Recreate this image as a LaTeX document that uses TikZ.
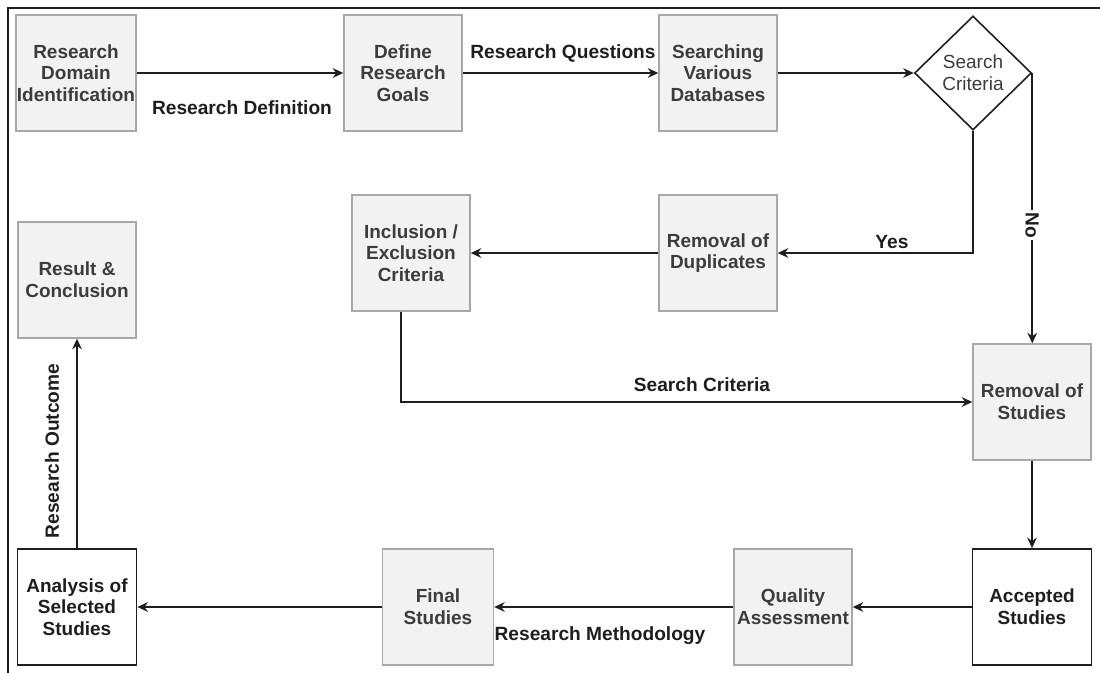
\documentclass[tikz,border=0pt]{standalone}
\usepackage{fontspec}
\setmainfont{Liberation Sans}
\usetikzlibrary{shapes.geometric,arrows.meta}
\definecolor{boxfill}{HTML}{F2F2F2}
\definecolor{boxline}{HTML}{A8A8A8}
\definecolor{boxtext}{HTML}{3C3C3C}
\definecolor{ink}{HTML}{1E1E1E}
\begin{document}
\begin{tikzpicture}[x=0.02cm,y=-0.02cm,
  every node/.style={font=\fontsize{10.8}{12.3}\selectfont},
  graybox/.style={draw=boxline,line width=0.8pt,fill=boxfill,text=boxtext,
    font=\fontsize{10.8}{12.3}\selectfont\bfseries,align=center,inner sep=0.5pt,
    minimum width=2.36cm,minimum height=2.32cm},
  darkbox/.style={draw=ink,line width=1pt,fill=white,text=ink,
    font=\fontsize{10.8}{12.3}\selectfont\bfseries,align=center,inner sep=0.5pt,
    minimum width=2.38cm,minimum height=2.32cm},
  decision/.style={diamond,draw=ink,line width=0.9pt,fill=white,text=boxtext,
    align=center,inner sep=0pt,minimum width=2.34cm,minimum height=2.28cm},
  flow/.style={draw=ink,line width=0.9pt,-{Stealth[length=6pt,width=5.5pt]}},
  edgelabel/.style={text=ink,font=\fontsize{10.9}{12.4}\selectfont\bfseries,inner sep=1pt}]
\useasboundingbox (0,0) rectangle (1100,673);
% partial frame: top and left edges
\draw[ink,line width=1pt] (8,673) -- (8,8) -- (1100,8);

% top row
\node[graybox] (rdi) at (76,73) {Research\\Domain\\Identification};
\node[graybox] (drg) at (403,73) {Define\\Research\\Goals};
\node[graybox] (svd) at (718,73) {Searching\\Various\\Databases};
\node[decision] (sc) at (973,73) {Search\\Criteria};

% middle row
\node[graybox] (rod) at (718,253) {Removal of\\Duplicates};
\node[graybox] (iec) at (411,253) {Inclusion /\\Exclusion\\Criteria};
\node[graybox] (rc) at (77,280) {Result \&\\Conclusion};
\node[graybox] (ros) at (1032,402) {Removal of\\Studies};

% bottom row
\node[darkbox] (acc) at (1032,607) {Accepted\\Studies};
\node[graybox] (qa) at (793,607) {Quality\\Assessment};
\node[graybox,minimum width=2.22cm] (fs) at (438,607) {Final\\Studies};
\node[darkbox] (ass) at (77,607) {Analysis of\\Selected\\Studies};

% connectors
\draw[flow] (rdi) -- (drg);
\draw[flow] (drg) -- (svd);
\draw[flow] (svd) -- (sc.west);
\draw[flow] (sc.south) |- (rod.east);
\draw[flow] (sc.east) -- (sc.east |- ros.north);
\draw[flow] (rod) -- (iec);
\draw[flow] ([xshift=-0.2cm]iec.south) |- (ros.west);
\draw[flow] (ros) -- (acc);
\draw[flow] (acc) -- (qa);
\draw[flow] (qa) -- (fs);
\draw[flow] (fs) -- (ass);
\draw[flow] (ass) -- (rc);

% connector labels
\node[edgelabel] (lrd) at (242,108) {Research Definition};
\node[edgelabel] (lrq) at (563,53) {Research Questions};
\node[edgelabel] (lyes) at (892,242) {Yes};
\node[edgelabel,fill=white,rotate=-90] (lno) at (1032,225) {No};
\node[edgelabel] (lsc) at (702,385) {Search Criteria};
\node[edgelabel] (lrm) at (600,636) {Research Methodology};
\node[edgelabel,rotate=90] (lro) at (52,451) {Research Outcome};
\end{tikzpicture}
\end{document}
